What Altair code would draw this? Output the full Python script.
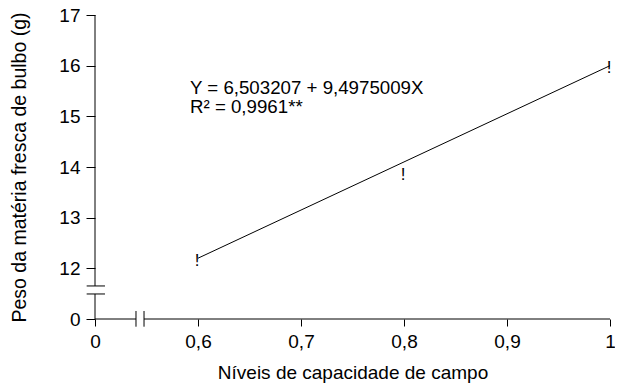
import altair as alt
import pandas as pd

FONT = "Liberation Sans"

# Observed points (x = field capacity level, y = bulb fresh weight, g)
x_values = [0.6, 0.8, 1.0]
y_values = [12.27, 13.96, 16.07]

# Fitted regression line endpoints (Y = 6,503207 + 9,4975009X)
line_x = [0.6, 1.0]
line_y = [12.20, 16.00]

# Axis ticks (0 is drawn at the broken-axis position 0.5 / 11)
x_ticks = [0.5, 0.6, 0.7, 0.8, 0.9, 1.0]
y_ticks = [11, 12, 13, 14, 15, 16, 17]

# Equation annotation
eq_text = ["Y = 6,503207 + 9,4975009X", "R\u00b2 = 0,9961**"]
eq_x = [0.5922, 0.5922]
eq_y = [15.441, 15.066]

# Axis line segments with breaks (data coordinates)
seg_x1 = [0.5, 0.5, 0.5, 0.5476, 0.4919, 0.4919, 0.5398, 0.5476]
seg_x2 = [0.5, 0.5, 0.5398, 1.0, 0.5097, 0.5097, 0.5398, 0.5476]
seg_y1 = [17.0, 11.494, 11.0, 11.0, 11.652, 11.494, 10.848, 10.848]
seg_y2 = [11.652, 11.0, 11.0, 11.0, 11.652, 11.494, 11.158, 11.158]

pts = pd.DataFrame({"x": x_values, "y": y_values})
line = pd.DataFrame({"x": line_x, "y": line_y})
eq = pd.DataFrame({"x": eq_x, "y": eq_y, "t": eq_text})
segs = pd.DataFrame({"x": seg_x1, "x2": seg_x2, "y": seg_y1, "y2": seg_y2})

xs = alt.Scale(domain=[0.5, 1.0], nice=False, zero=False)
ys = alt.Scale(domain=[11, 17], nice=False, zero=False)

x_title = "Níveis de capacidade de campo"
y_title = "Peso da matéria fresca de bulbo (g)"

axis_x = alt.Axis(
    values=x_ticks,
    labelExpr="datum.value == 0.5 ? '0' : replace(format(datum.value, '~g'), '.', ',')",
    domain=False, grid=False, tickSize=7, tickColor="black", tickWidth=1,
    labelFont=FONT, labelFontSize=19, labelColor="black", labelPadding=6,
    labelFlush=False,
    titleFont=FONT, titleFontSize=19, titleFontWeight="normal", titleColor="black",
    titlePadding=12,
)
axis_y = alt.Axis(
    values=y_ticks,
    labelExpr="datum.value == 11 ? '0' : format(datum.value, 'd')",
    domain=False, grid=False, tickSize=9, tickColor="black", tickWidth=1,
    labelFont=FONT, labelFontSize=19, labelColor="black", labelPadding=6,
    labelFlush=False,
    titleFont=FONT, titleFontSize=19.5, titleFontWeight="normal", titleColor="black",
    titlePadding=29,
)


def X(f):
    return alt.X(f, type="quantitative", scale=xs, axis=axis_x, title=x_title)


def Y(f):
    return alt.Y(f, type="quantitative", scale=ys, axis=axis_y, title=y_title)


line_layer = alt.Chart(line).mark_line(color="black", strokeWidth=1).encode(x=X("x"), y=Y("y"))
pts_layer = alt.Chart(pts).mark_text(
    text="!", font=FONT, fontSize=17, baseline="alphabetic", dy=11, dx=-1, color="black"
).encode(x=X("x"), y=Y("y"))
seg_layer = alt.Chart(segs).mark_rule(color="black", strokeWidth=1).encode(
    x=X("x"), x2="x2", y=Y("y"), y2="y2"
)
eq_layer = alt.Chart(eq).mark_text(
    align="left", baseline="alphabetic", font=FONT, fontSize=18.7, color="black"
).encode(x=X("x"), y=Y("y"), text="t:N")

chart = alt.layer(seg_layer, line_layer, pts_layer, eq_layer).properties(
    width=515,
    height=304,
    padding={"left": 87, "top": 7, "right": 5, "bottom": 64},
    autosize=alt.AutoSizeParams(type="none"),
    background="white",
).configure_view(stroke=None)

chart.save("out.html", embed_options={"renderer": "svg", "actions": False})
